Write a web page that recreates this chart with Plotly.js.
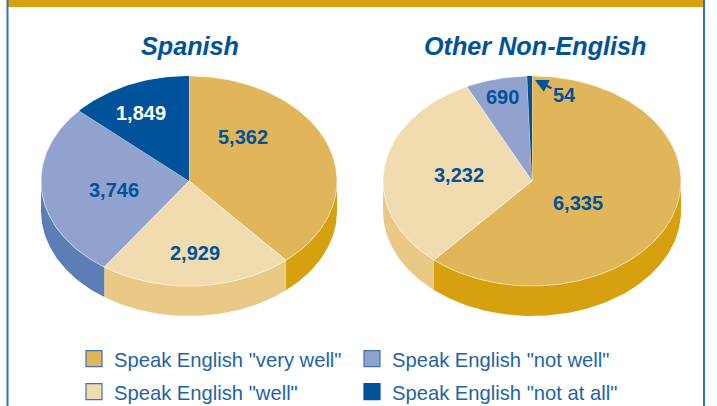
<!DOCTYPE html>
<html>
<head>
<meta charset="utf-8">
<script src="https://cdn.plot.ly/plotly-3.0.1.min.js"></script>
<style>
  html, body { margin: 0; padding: 0; background: #fff; overflow: hidden; }
  #chart { width: 717px; height: 406px; }
</style>
</head>
<body>
<div id="chart"></div>
<script>
// Data
const categories = ['Speak English "very well"', 'Speak English "well"', 'Speak English "not well"', 'Speak English "not at all"'];
const spanishValues = [5362, 2929, 3746, 1849];
const otherValues = [6335, 3232, 690, 54];
const spanishLabels = ['5,362', '2,929', '3,746', '1,849'];
const otherLabels = ['6,335', '3,232', '690', '54'];

// Styling
const W = 717, H = 406;
const NAVY = '#00529b';
const FONT = '"Liberation Sans", Arial, sans-serif';
const faceColors = ['#e1b65b', '#f1dcb0', '#92a2ce', '#00529b'];
const sideColors = ['#d6a00e', '#eac987', '#5c7db6', '#00529b'];
const DEPTH = 0.2857; // rim height, in units of the ellipse's vertical radius

// label spots in pie units (x: -1..1, y: -1..1), one per slice
const spanishSpots = [[0.365, 0.419], [0.04, -0.686], [-0.507, -0.086], [-0.324, 0.648]];
const otherSpots = [[0.309, -0.210], [-0.49, 0.057], [-0.195, 0.800], [0.221, 0.819]];

function arc(a0, a1, drop) {
  // angles in degrees, clockwise from 12 o'clock
  const pts = [];
  const steps = Math.max(2, Math.ceil(Math.abs(a1 - a0)));
  for (let i = 0; i <= steps; i++) {
    const a = (a0 + (a1 - a0) * i / steps) * Math.PI / 180;
    pts.push([Math.sin(a), Math.cos(a) - drop]);
  }
  return pts;
}

function polygon(pts, color, xa, ya, line, hover) {
  return {
    x: pts.map(p => p[0]), y: pts.map(p => p[1]),
    xaxis: xa, yaxis: ya, type: 'scatter', mode: 'lines', fill: 'toself',
    fillcolor: color,
    line: line ? { color: line, width: 0.5 } : { width: 0, color: color },
    showlegend: false, hoverinfo: hover ? 'text' : 'skip', text: hover || undefined
  };
}

function pieTraces(values, xa, ya) {
  const total = values.reduce((s, v) => s + v, 0);
  const rim = [], faces = [];
  let start = 0;
  values.forEach((v, i) => {
    const end = start + v / total * 360;
    // the rim only shows on the front half of the pie
    const a0 = Math.max(start, 90), a1 = Math.min(end, 270);
    if (a1 > a0) {
      const pts = arc(a0, a1, 0).concat(arc(a1, a0, DEPTH));
      pts.push(pts[0]);
      rim.push(polygon(pts, sideColors[i], xa, ya));
    }
    const face = [[0, 0]].concat(arc(start, end, 0));
    face.push([0, 0]);
    faces.push(polygon(face, faceColors[i], xa, ya, i === 3 ? null : '#ffffff',
      categories[i] + ': ' + v.toLocaleString('en-US')));
    start = end;
  });
  return rim.concat(faces);
}

// dummy marker traces, one per legend, give the square bordered swatches
const legendTraces = categories.map((name, i) => ({
  x: [null], y: [null], xaxis: 'x', yaxis: 'y', type: 'scatter', mode: 'markers', name,
  legend: i === 0 ? 'legend' : 'legend' + (i + 1),
  marker: { symbol: 'square', size: 17, color: faceColors[i], line: { color: i === 3 ? NAVY : '#3f74ad', width: 1.2 } },
  showlegend: true, hoverinfo: 'skip'
}));

const traces = pieTraces(spanishValues, 'x', 'y')
  .concat(pieTraces(otherValues, 'x2', 'y2'))
  .concat(legendTraces);

function valueAnnotations(labels, spots, xref, yref) {
  return labels.map((text, i) => ({
    text, x: spots[i][0], y: spots[i][1], xref, yref, showarrow: false,
    xanchor: 'center', yanchor: 'middle',
    font: { family: FONT, size: 20, color: (i === 3 && xref === 'x') ? '#ffffff' : NAVY, weight: 700 }
  }));
}

function titleAnnotation(text, px) {
  return {
    text: '<b><i>' + text + '</i></b>', x: px / W, y: 1 - 46 / H, xref: 'paper', yref: 'paper',
    showarrow: false, xanchor: 'center', yanchor: 'middle',
    font: { family: FONT, size: 25.2, color: NAVY }
  };
}

function legendBox(px, py) {
  return {
    x: px / W, y: 1 - py / H, xanchor: 'left', yanchor: 'middle', orientation: 'v',
    indentation: -6,
    bgcolor: 'rgba(0,0,0,0)', borderwidth: 0, itemclick: false, itemdoubleclick: false,
    font: { family: FONT, size: 20.2, color: '#1f63a6' }
  };
}

const hiddenAxis = { visible: false, fixedrange: true };

const layout = {
  width: W, height: H,
  // autoexpand off: the legends sit at the very bottom and must not push the plot up
  margin: { l: 0, r: 0, t: 0, b: 0, autoexpand: false },
  paper_bgcolor: '#ffffff', plot_bgcolor: 'rgba(0,0,0,0)',
  hovermode: 'closest',
  xaxis: { ...hiddenAxis, range: [-1, 1], domain: [41 / W, 337 / W] },
  yaxis: { ...hiddenAxis, range: [-1 - DEPTH, 1], domain: [1 - 316 / H, 1 - 76 / H] },
  xaxis2: { ...hiddenAxis, range: [-1, 1], domain: [383 / W, 681 / W] },
  yaxis2: { ...hiddenAxis, range: [-1 - DEPTH, 1], domain: [1 - 316 / H, 1 - 76 / H] },
  legend: legendBox(80, 359),
  legend2: legendBox(80, 392),
  legend3: legendBox(358, 359),
  legend4: legendBox(358, 392),
  shapes: [
    // frame: gold bar on top, thin blue rules down the sides
    { type: 'rect', xref: 'paper', yref: 'paper', x0: 7 / W, x1: 704 / W, y0: 1 - 7 / H, y1: 1, fillcolor: '#d6a00e', line: { width: 0 }, layer: 'below' },
    { type: 'rect', xref: 'paper', yref: 'paper', x0: 6.5 / W, x1: 8.5 / W, y0: 0, y1: 1, fillcolor: '#2f74b5', line: { width: 0 }, layer: 'below' },
    { type: 'rect', xref: 'paper', yref: 'paper', x0: 703 / W, x1: 705 / W, y0: 0, y1: 1, fillcolor: '#2f74b5', line: { width: 0 }, layer: 'below' }
  ],
  annotations: [
    titleAnnotation('Spanish', 190),
    titleAnnotation('Other Non-English', 535),
    ...valueAnnotations(spanishLabels, spanishSpots, 'x', 'y'),
    ...valueAnnotations(otherLabels, otherSpots, 'x2', 'y2'),
    // leader arrow for the tiny slice
    {
      text: '', xref: 'paper', yref: 'paper', x: 535 / W, y: 1 - 80 / H,
      showarrow: true, axref: 'pixel', ayref: 'pixel', ax: 18, ay: 9,
      arrowhead: 2, arrowsize: 1.2, arrowwidth: 2.2, arrowcolor: NAVY
    }
  ]
};

Plotly.newPlot('chart', traces, layout, { displayModeBar: false, staticPlot: false });
</script>
</body>
</html>
